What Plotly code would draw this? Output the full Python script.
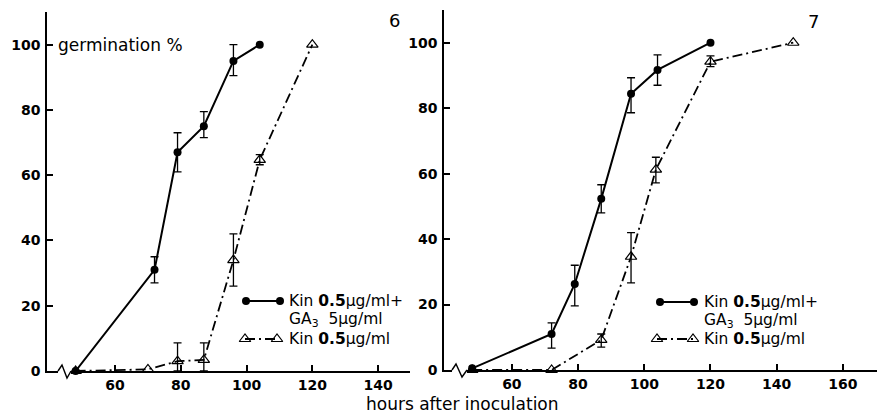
import plotly.graph_objects as go

W, H = 877, 415

# ---------------- data ----------------
# Panel 6
hours_6_kin_ga = [48, 72, 79, 87, 96, 104]
germ_6_kin_ga = [0, 31, 67, 75, 95, 100]
hi_6_kin_ga = [None, 35, 73, 79.5, 100, None]
lo_6_kin_ga = [None, 27, 61, 71.5, 90.5, None]

hours_6_kin = [48, 70, 79, 87, 96, 104, 120]
germ_6_kin = [0, 0.5, 3, 3.4, 34, 64.7, 100]
hi_6_kin = [None, None, 8.6, 8.6, 42, 66.3, None]
lo_6_kin = [None, None, 0, 0, 26, 63.2, None]

# Panel 7
hours_7_kin_ga = [48, 72, 79, 87, 96, 104, 120]
germ_7_kin_ga = [0.5, 11, 26.3, 52.3, 84.4, 91.7, 100]
hi_7_kin_ga = [None, 14.4, 32, 56.6, 89.3, 96.3, None]
lo_7_kin_ga = [None, 6.7, 19.6, 48, 78.6, 87, None]

hours_7_kin = [48, 72, 87, 96, 103.5, 120, 145]
germ_7_kin = [0, 0, 9.2, 34.6, 61.2, 94.2, 100]
hi_7_kin = [None, None, 11, 42, 65, 96, None]
lo_7_kin = [None, None, 7, 26.6, 57.2, 92.7, None]

x_ticks_6 = [60, 80, 100, 120, 140]
x_ticks_7 = [60, 80, 100, 120, 140, 160]
y_ticks = [0, 20, 40, 60, 80, 100]

legend_1a = "Kin <b>0.5</b>µg/ml+"
legend_1b = "GA<sub>3</sub>  5µg/ml"
legend_2 = "Kin <b>0.5</b>µg/ml"

FONT = "DejaVu Sans"
DASHDOT = "10px,4px,2px,4px"

fig = go.Figure()


def err_trace(x, y, hi, lo, xa, ya):
    idx = [i for i, h in enumerate(hi) if h is not None]
    return go.Scatter(
        x=[x[i] for i in idx], y=[y[i] for i in idx], mode="markers",
        marker=dict(size=1, color="rgba(0,0,0,0)"),
        error_y=dict(type="data", symmetric=False,
                     array=[hi[i] - y[i] for i in idx],
                     arrayminus=[y[i] - lo[i] for i in idx],
                     color="black", thickness=1.3, width=4),
        xaxis=xa, yaxis=ya, showlegend=False, hoverinfo="skip", cliponaxis=False)


def kin_ga_trace(x, y, xa, ya):
    return go.Scatter(x=x, y=y, mode="lines+markers",
                      line=dict(color="black", width=2),
                      marker=dict(symbol="circle", size=8, color="black"),
                      xaxis=xa, yaxis=ya, showlegend=False, cliponaxis=False)


def kin_trace(x, y, xa, ya):
    return go.Scatter(x=x, y=y, mode="lines+markers",
                      line=dict(color="black", width=1.8, dash=DASHDOT),
                      marker=dict(symbol="triangle-up-open", size=10, color="black",
                                  line=dict(width=1.2, color="black")),
                      xaxis=xa, yaxis=ya, showlegend=False, cliponaxis=False)


for xs, ys, hi, lo, xa, ya in [
    (hours_6_kin_ga, germ_6_kin_ga, hi_6_kin_ga, lo_6_kin_ga, "x", "y"),
    (hours_6_kin, germ_6_kin, hi_6_kin, lo_6_kin, "x", "y"),
    (hours_7_kin_ga, germ_7_kin_ga, hi_7_kin_ga, lo_7_kin_ga, "x2", "y2"),
    (hours_7_kin, germ_7_kin, hi_7_kin, lo_7_kin, "x2", "y2"),
]:
    fig.add_trace(err_trace(xs, ys, hi, lo, xa, ya))

fig.add_trace(kin_trace(hours_6_kin, germ_6_kin, "x", "y"))
fig.add_trace(kin_ga_trace(hours_6_kin_ga, germ_6_kin_ga, "x", "y"))
fig.add_trace(kin_trace(hours_7_kin, germ_7_kin, "x2", "y2"))
fig.add_trace(kin_ga_trace(hours_7_kin_ga, germ_7_kin_ga, "x2", "y2"))

# legend samples on a pixel overlay axis
LEG = [  # (x0, x1, y_circle_line, x0t, x1t, y_tri_line, text_x)
    (246, 280, 301, 245, 277, 339, 288),
    (660, 694, 302, 657, 693, 339, 703),
]
for x0, x1, yc, x0t, x1t, yt, tx in LEG:
    fig.add_trace(kin_ga_trace([x0, x1], [yc, yc], "x3", "y3"))
    fig.add_trace(kin_trace([x0t, x1t], [yt, yt], "x3", "y3"))


def px(x):
    return x / W


def py(y):
    return 1 - y / H


annots = []
for x0, x1, yc, x0t, x1t, yt, tx in LEG:
    annots.append(dict(text=legend_1a, x=px(tx), y=py(yc), xanchor="left", yanchor="middle"))
    annots.append(dict(text=legend_1b, x=px(tx), y=py(yc + 19), xanchor="left", yanchor="middle"))
    annots.append(dict(text=legend_2, x=px(tx), y=py(yt), xanchor="left", yanchor="middle"))
annots.append(dict(text="germination %", x=px(57), y=py(45), xanchor="left", yanchor="middle",
                   font=dict(family=FONT, size=17, color="black")))
annots.append(dict(text="hours after inoculation", x=px(462), y=py(404), xanchor="center",
                   yanchor="middle", font=dict(family=FONT, size=17, color="black")))
annots.append(dict(text="6", x=px(394), y=py(20), xanchor="center", yanchor="middle",
                   font=dict(family=FONT, size=18, color="black")))
annots.append(dict(text="7", x=px(813), y=py(21), xanchor="center", yanchor="middle",
                   font=dict(family=FONT, size=18, color="black")))
for a in annots:
    a.setdefault("font", dict(family=FONT, size=15.5, color="black"))
    a.update(xref="paper", yref="paper", showarrow=False, borderpad=0)

# broken-axis zigzags
shapes = []
for (xa0, xa1, yax, xp, yup, xd, ydn) in [(58, 71, 371, 62, 365, 67, 378),
                                          (452, 467, 370, 456, 364, 462, 377)]:
    shapes.append(dict(type="rect", xref="paper", yref="paper",
                       x0=px(xa0), x1=px(xa1), y0=py(yax + 4), y1=py(yax - 4),
                       fillcolor="white", line=dict(width=0)))
    shapes.append(dict(type="path", xref="paper", yref="paper",
                       path=f"M {px(xa0)},{py(yax)} L {px(xp)},{py(yup)} L {px(xd)},{py(ydn)} L {px(xa1)},{py(yax)}",
                       line=dict(color="black", width=1.4)))

axis_common = dict(showline=True, linecolor="black", linewidth=1.5, ticks="inside",
                   ticklen=6, tickwidth=1.5, tickcolor="black", showgrid=False,
                   zeroline=False, automargin=False,
                   tickfont=dict(family=FONT, size=14, color="black", weight="bold"))

fig.update_layout(
    width=W, height=H,
    margin=dict(l=0, r=0, t=0, b=0),
    paper_bgcolor="white", plot_bgcolor="rgba(0,0,0,0)",
    showlegend=False,
    xaxis=dict(domain=[47 / W, 410 / W], range=[39.3, 149.7], tickvals=x_ticks_6,
               anchor="y", **axis_common),
    yaxis=dict(domain=[44 / H, 403 / H], range=[0, 110], tickvals=y_ticks,
               anchor="x", ticklabelstandoff=2, **axis_common),
    xaxis2=dict(domain=[444 / W, 1.0], range=[39.5, 170.3], tickvals=x_ticks_7,
                anchor="y2", **axis_common),
    yaxis2=dict(domain=[45 / H, 405 / H], range=[0, 110], tickvals=y_ticks,
                anchor="x2", ticklabelstandoff=2, **axis_common),
    xaxis3=dict(domain=[0, 1], range=[0, W], visible=False, anchor="y3"),
    yaxis3=dict(domain=[0, 1], range=[H, 0], visible=False, anchor="x3"),
    annotations=annots,
    shapes=shapes,
)

fig.write_html("out.html", config={"displayModeBar": False},
               post_script="document.body.style.margin='0px';")
